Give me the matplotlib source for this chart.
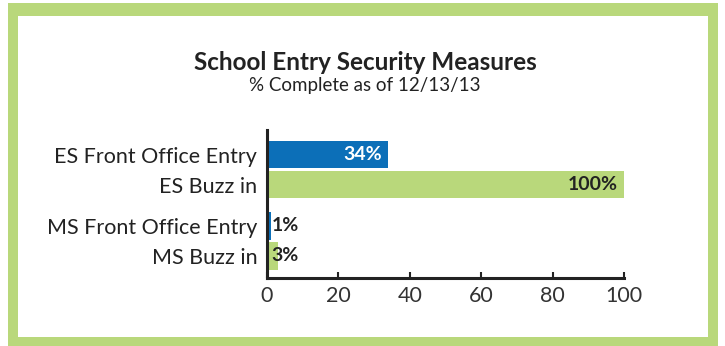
import numpy as np
import matplotlib.pyplot as plt
from matplotlib.patches import Rectangle

# chart data
categories = ['ES Front Office Entry', 'ES Buzz in', 'MS Front Office Entry', 'MS Buzz in']
values = [34, 100, 1, 3]
labels = ['34%', '100%', '1%', '3%']
xticks = [0, 20, 40, 60, 80, 100]

blue = '#0c6fb8'
green = '#b9d87b'
bar_colors = [blue, green, blue, green]

plt.rcParams['font.family'] = ['Lato', 'DejaVu Sans']

fig = plt.figure(figsize=(7.25, 3.46), dpi=100)

# green frame round the chart
fig.patches.append(Rectangle((8/725, 0), 710/725, 343/346, transform=fig.transFigure,
                             facecolor=green, edgecolor='none', zorder=-2))
fig.patches.append(Rectangle((18/725, 9/346), 690/725, 321/346, transform=fig.transFigure,
                             facecolor='white', edgecolor='none', zorder=-1))

# axes box in pixels: x 267..624, y 130..278
ax = fig.add_axes([267/725, 1 - 278/346, 357/725, 148/346])
ax.patch.set_alpha(0)
ax.set_zorder(2)

ypos = [0, 1, 2.38, 3.38]   # pairs of bars touching, gap between pairs
ax.barh(ypos, values, height=0.93, color=bar_colors, zorder=2)
ax.set_ylim(4.12, -0.82)
ax.set_xlim(0, 100)

for y, v, lab in zip(ypos, values, labels):
    if v > 10:
        col = 'white' if v < 50 else '#222222'
        ax.text(v - 1.8, y, lab, ha='right', va='center', fontsize=14,
                fontweight='bold', color=col, zorder=3)
    else:
        ax.text(1.3, y, lab, ha='left', va='center', fontsize=14,
                fontweight='bold', color='#222222', zorder=3)

ax.set_yticks(ypos)
ax.set_yticklabels(categories, fontsize=15.5, color='#222222')
ax.tick_params(axis='y', length=0, pad=7)
ax.set_xticks(xticks)
ax.set_xticklabels([str(t) for t in xticks], fontsize=15.5, color='#333333')
ax.tick_params(axis='x', direction='in', length=4, width=1.5, color='#222222', pad=6)

for s in ['top', 'right']:
    ax.spines[s].set_visible(False)
for s in ['left', 'bottom']:
    ax.spines[s].set_linewidth(2.2)
    ax.spines[s].set_color('#222222')

fig.text(365/725, 1 - 62/346, 'School Entry Security Measures', ha='center', va='center',
         fontsize=17.5, fontweight='bold', color='#222222')
fig.text(365/725, 1 - 85/346, '% Complete as of 12/13/13', ha='center', va='center',
         fontsize=13.5, color='#222222')

fig.savefig('out.png', dpi=100)
